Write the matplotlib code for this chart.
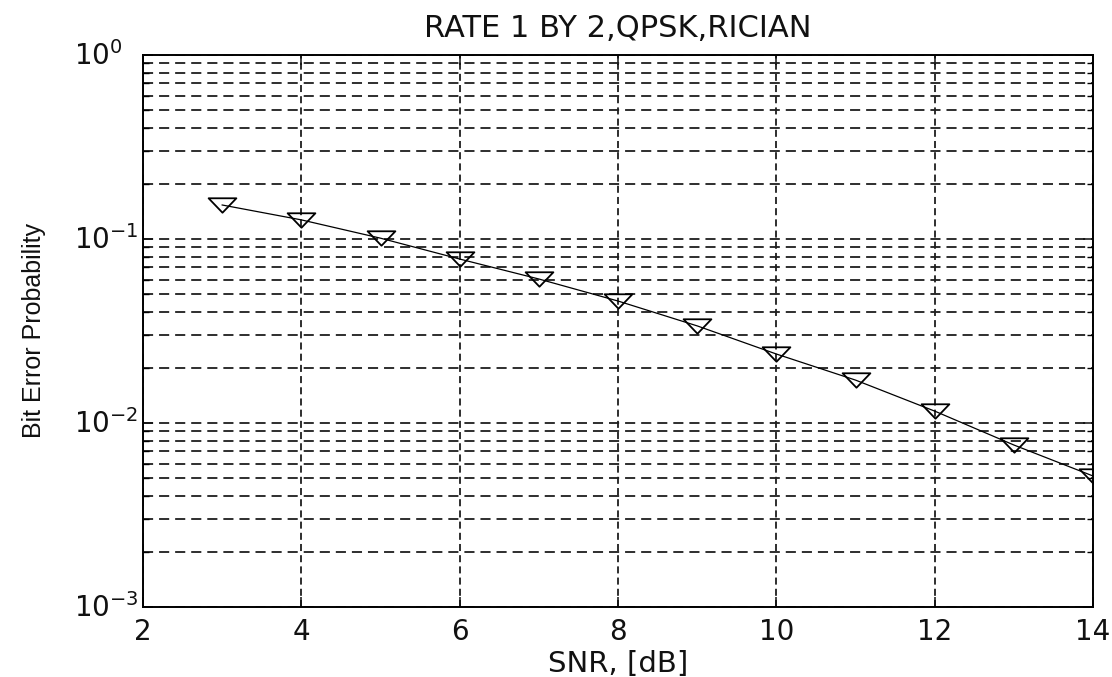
import matplotlib
matplotlib.use("Agg")
import matplotlib.pyplot as plt
import matplotlib.transforms as mtransforms
from matplotlib import font_manager
from matplotlib.path import Path
from matplotlib.ticker import LogLocator, FixedLocator, NullFormatter

# Simulated bit error probability, rate 1/2 code, QPSK over a Rician channel
snr_db = [3, 4, 5, 6, 7, 8, 9, 10, 11, 12, 13, 14]
ber = [0.153, 0.127, 0.101, 0.0778, 0.0606, 0.0460, 0.0337, 0.0237,
       0.0171, 0.0116, 0.00759, 0.00515]

x_ticks = [2, 4, 6, 8, 10, 12, 14]
title_text = "RATE 1 BY 2,QPSK,RICIAN"
x_label = "SNR, [dB]"
y_label = "Bit Error Probability"

installed = {f.name for f in font_manager.fontManager.ttflist}
narrow = "Liberation Sans Narrow" if "Liberation Sans Narrow" in installed else "Liberation Sans"
narrow_size = 21 if narrow == "Liberation Sans Narrow" else 18

plt.rcParams["font.family"] = ["DejaVu Sans"]

fig = plt.figure(figsize=(11.12, 6.77), dpi=100, facecolor="white")
ax = fig.add_axes([0.1286, 0.1034, 0.8544, 0.8154])

# Wide, flat downward triangle marker
tri = Path([(-1.0, 0.52), (1.0, 0.52), (0.0, -0.52), (-1.0, 0.52)],
           [Path.MOVETO, Path.LINETO, Path.LINETO, Path.CLOSEPOLY])

ax.plot(snr_db, ber, color="black", lw=0.9, marker=tri, markersize=20,
        markerfacecolor="none", markeredgecolor="black", markeredgewidth=1.3,
        zorder=3)

ax.set_yscale("log")
ax.set_xlim(2, 14)
ax.set_ylim(1e-3, 1)
ax.xaxis.set_major_locator(FixedLocator(x_ticks))
ax.yaxis.set_major_locator(LogLocator(base=10, numticks=10))
ax.yaxis.set_minor_locator(LogLocator(base=10, subs=range(2, 10), numticks=20))
ax.yaxis.set_minor_formatter(NullFormatter())

grid_col = "#1e1e1e"
ax.yaxis.grid(True, which="both", color=grid_col, lw=1.3,
              linestyle=(0, (5.6, 3.3)))
ax.xaxis.grid(True, which="major", color=grid_col, lw=1.3,
              linestyle=(0, (3.9, 2.3)))
ax.set_axisbelow(True)

for sp in ax.spines.values():
    sp.set_linewidth(1.4)
    sp.set_color("black")

ax.tick_params(axis="both", which="major", direction="in", length=7, width=1.1,
               top=True, right=True, labelsize=20, colors="#111111")
ax.tick_params(axis="y", which="major", pad=50)
ax.tick_params(axis="x", which="major", pad=8)
ax.tick_params(axis="y", which="minor", direction="in", length=4, width=1.0,
               left=True, right=True)

ax.set_title(title_text, fontsize=22, pad=13, color="#111111")
ax.set_xlabel(x_label, fontsize=21, labelpad=3, color="#111111")
ax.set_ylabel(y_label, fontsize=narrow_size, family=[narrow, "DejaVu Sans"],
              labelpad=20, color="#111111")

# Decade labels: mantissa "10" left-aligned in a column and centred on its tick
fig.canvas.draw()
lift = mtransforms.ScaledTranslation(0, 2 / 100, fig.dpi_scale_trans)
for lbl in ax.get_yticklabels():
    lbl.set_horizontalalignment("left")
    lbl.set_transform(lbl.get_transform() + lift)

fig.savefig("out.png", dpi=100, facecolor="white")
